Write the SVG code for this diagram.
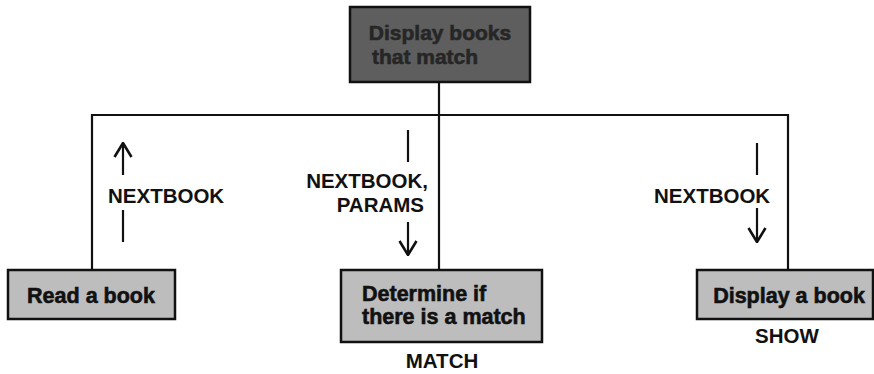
<svg xmlns="http://www.w3.org/2000/svg" width="874" height="374" viewBox="0 0 874 374">
<defs>
<style>
.box{fill:#bdbdbd;stroke:#111;stroke-width:2.5}
.top{fill:#5e5e5e;stroke:#111;stroke-width:2.5}
.bt{font-family:"Liberation Sans",Arial,sans-serif;font-weight:bold;font-size:21.5px;fill:#111;stroke:#111;stroke-width:0.6}
.tt{font-family:"Liberation Sans",Arial,sans-serif;font-weight:bold;font-size:21px;fill:#262626;stroke:#262626;stroke-width:0.6}
.lbl{font-family:"Liberation Sans",Arial,sans-serif;font-weight:bold;font-size:20.5px;fill:#111}
.nm{font-family:"Liberation Sans",Arial,sans-serif;font-weight:bold;font-size:20.5px;fill:#111}
.ln{stroke:#111;stroke-width:2.2;fill:none}
.ar{stroke:#111;stroke-width:2.2;fill:none}
</style>
<marker id="ah" viewBox="0 0 16 20" refX="15" refY="10" markerWidth="16" markerHeight="20" markerUnits="userSpaceOnUse" orient="auto">
<path d="M1,1.5 L15,10 L1,18.5" fill="none" stroke="#111" stroke-width="2.6"/>
</marker>
</defs>
<rect width="874" height="374" fill="#fff"/>
<g id="connectors">
<line class="ln" x1="439" y1="82" x2="439" y2="270"/>
<polyline class="ln" points="92,270 92,115 788,115 788,270"/>
<line class="ar" x1="123" y1="175" x2="123" y2="143" marker-end="url(#ah)"/>
<line class="ar" x1="123" y1="210" x2="123" y2="242"/>
<line class="ar" x1="408" y1="130" x2="408" y2="162"/>
<line class="ar" x1="408" y1="222" x2="408" y2="255" marker-end="url(#ah)"/>
<line class="ar" x1="757" y1="143" x2="757" y2="175"/>
<line class="ar" x1="757" y1="208" x2="757" y2="242" marker-end="url(#ah)"/>
<text class="lbl" x="108" y="203">NEXTBOOK</text>
<text class="lbl" x="428" y="188" text-anchor="end">NEXTBOOK,</text>
<text class="lbl" x="424" y="212" text-anchor="end">PARAMS</text>
<text class="lbl" x="654" y="203">NEXTBOOK</text>
</g>
<g id="node-top">
<rect class="top" x="350" y="7" width="180" height="75"/>
<text class="tt" x="440" y="40" text-anchor="middle">Display books</text>
<text class="tt" x="425" y="64" text-anchor="middle">that match</text>
</g>
<g id="node-read">
<rect class="box" x="8" y="270" width="167" height="49"/>
<text class="bt" x="91" y="303" text-anchor="middle">Read a book</text>
</g>
<g id="node-match">
<rect class="box" x="341" y="270" width="201" height="72"/>
<text class="bt" x="362" y="301">Determine if</text>
<text class="bt" x="362" y="324">there is a match</text>
<text class="nm" x="442" y="368" text-anchor="middle">MATCH</text>
</g>
<g id="node-show">
<rect class="box" x="697" y="270" width="176" height="49"/>
<text class="bt" x="789" y="303" text-anchor="middle">Display a book</text>
<text class="nm" x="787" y="343" text-anchor="middle">SHOW</text>
</g>
</svg>
